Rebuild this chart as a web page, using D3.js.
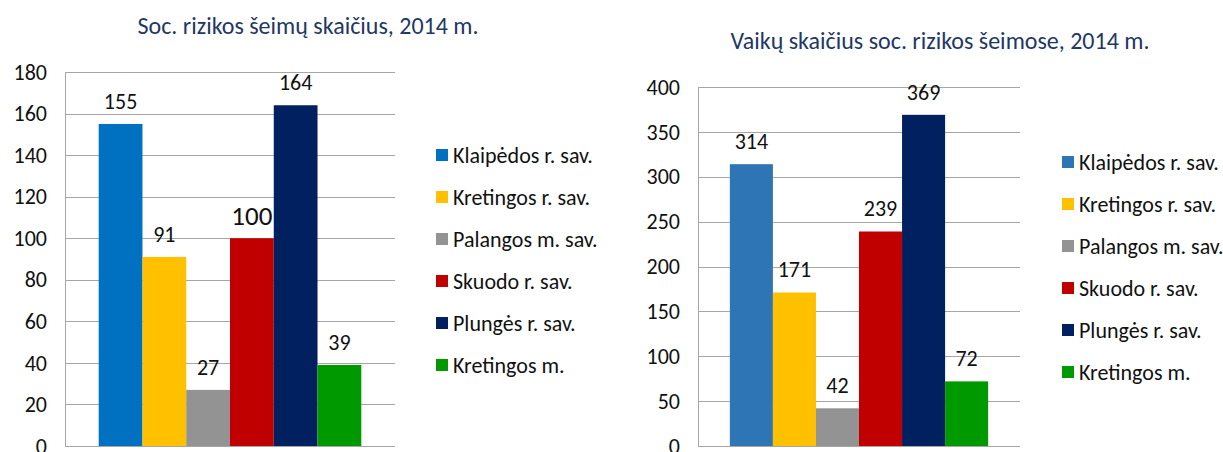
<!DOCTYPE html>
<html>
<head>
<meta charset="utf-8">
<script src="https://cdn.jsdelivr.net/npm/d3@7"></script>
<style>
  body { margin: 0; background: #fff; }
  svg { display: block; font-family: Carlito, "Open Sans", sans-serif; }
</style>
</head>
<body>
<svg id="chart" width="1223" height="452"></svg>
<script>
// municipalities (legend order = bar order)
const categories = ['Klaipėdos r. sav.', 'Kretingos r. sav.', 'Palangos m. sav.', 'Skuodo r. sav.', 'Plungės r. sav.', 'Kretingos m.']
const familiesValues = [155, 91, 27, 100, 164, 39]
const childrenValues = [314, 171, 42, 239, 369, 72]
const familiesTicks = [0, 20, 40, 60, 80, 100, 120, 140, 160, 180]
const childrenTicks = [0, 50, 100, 150, 200, 250, 300, 350, 400]
const familiesTitle = 'Soc. rizikos šeimų skaičius, 2014 m.'
const childrenTitle = 'Vaikų skaičius soc. rizikos šeimose, 2014 m.'

const colorsLeft  = ['#0070C0', '#FFC000', '#939393', '#C00000', '#002060', '#009A00']
const colorsRight = ['#2E75B6', '#FFC000', '#939393', '#C00000', '#002060', '#009A00']

var svg = d3.select('#chart')

function drawChart(opt) {
  var g = svg.append('g')

  var y = d3.scaleLinear()
    .domain([0, d3.max(opt.ticks)])
    .range([opt.bottom, opt.top])

  var x = d3.scaleBand()
    .domain(categories)
    .range([opt.left, opt.right])
    .paddingInner(0)
    .paddingOuter(opt.outer)

  g.append('text')
    .attr('x', opt.titleX)
    .attr('y', opt.titleY)
    .attr('text-anchor', 'middle')
    .style('font-size', '24px')
    .style('fill', '#1F3864')
    .text(opt.title)

  // gridlines
  g.append('g').selectAll('line')
    .data(opt.ticks)
    .enter().append('line')
    .attr('x1', opt.left).attr('x2', opt.right)
    .attr('y1', d => Math.round(y(d)) + 0.5)
    .attr('y2', d => Math.round(y(d)) + 0.5)
    .style('stroke', '#A6A6A6')
    .style('stroke-width', 1)

  g.append('line')
    .attr('x1', opt.left + 0.5).attr('x2', opt.left + 0.5)
    .attr('y1', opt.top).attr('y2', opt.bottom + 1)
    .style('stroke', '#A6A6A6')

  // tick labels
  g.append('g').selectAll('text')
    .data(opt.ticks)
    .enter().append('text')
    .attr('x', opt.left - 18)
    .attr('y', d => y(d))
    .attr('dy', '0.35em')
    .attr('text-anchor', 'end')
    .style('font-size', '22px')
    .style('fill', '#111')
    .text(d => d)

  g.append('g').selectAll('rect')
    .data(opt.values)
    .enter().append('rect')
    .attr('x', (d, i) => x(categories[i]))
    .attr('width', x.bandwidth())
    .attr('y', d => y(d))
    .attr('height', d => y(0) - y(d))
    .style('fill', (d, i) => opt.colors[i])

  g.append('g').selectAll('text')
    .data(opt.values)
    .enter().append('text')
    .attr('x', (d, i) => x(categories[i]) + x.bandwidth() / 2)
    .attr('y', d => y(d) - 23)
    .attr('dy', '0.35em')
    .attr('text-anchor', 'middle')
    .style('font-size', (d, i) => opt.bigLabel === i ? '27px' : '22px')
    .style('fill', '#111')
    .text(d => d)

  // legend
  var leg = g.append('g').selectAll('g')
    .data(categories)
    .enter().append('g')
    .attr('transform', (d, i) => `translate(${opt.legX},${opt.legY + i * 42})`)
  leg.append('rect')
    .attr('x', 0).attr('y', -6)
    .attr('width', 12).attr('height', 12)
    .style('fill', (d, i) => opt.colors[i])
  leg.append('text')
    .attr('x', 17)
    .attr('dy', '0.35em')
    .style('font-size', '22px')
    .style('fill', '#111')
    .text(d => d)
}

drawChart({
  title: familiesTitle, titleX: 308, titleY: 34,
  values: familiesValues, ticks: familiesTicks, colors: colorsLeft,
  left: 65, right: 395, top: 72, bottom: 446, outer: 0.77,
  legX: 436, legY: 155, bigLabel: 3
})

drawChart({
  title: childrenTitle, titleX: 940, titleY: 49,
  values: childrenValues, ticks: childrenTicks, colors: colorsRight,
  left: 698, right: 1020, top: 87, bottom: 446, outer: 0.74,
  legX: 1062, legY: 162
})
</script>
</body>
</html>
